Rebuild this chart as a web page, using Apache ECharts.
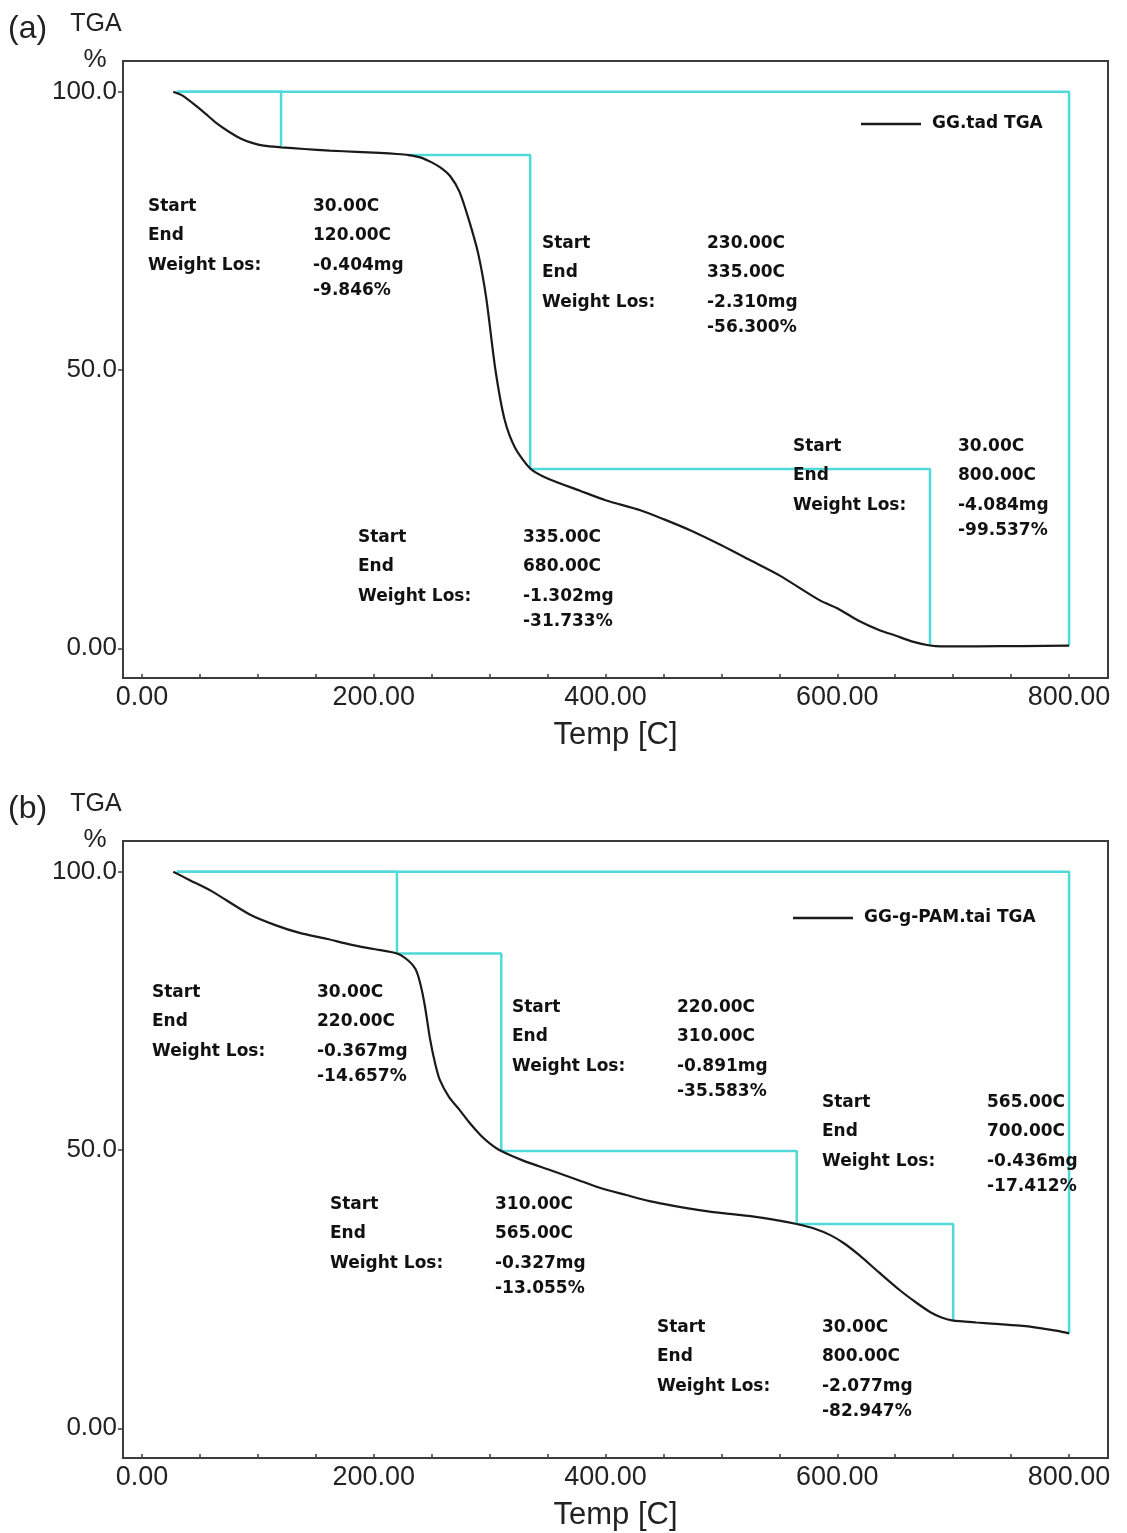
<!DOCTYPE html>
<html><head><meta charset="utf-8">
<script src="https://cdn.jsdelivr.net/npm/echarts@6/dist/echarts.min.js"></script>
<style>html,body{margin:0;padding:0;background:#fff}#c{width:1127px;height:1533px}</style>
</head><body><div id="c"></div>
<script>
// ---------- axis ticks ----------
const xTickValues = [0, 200, 400, 600, 800];
const xTickLabels = ['0.00', '200.00', '400.00', '600.00', '800.00'];
const xMinorTicks = [0, 50, 100, 150, 200, 250, 300, 350, 400, 450, 500, 550, 600, 650, 700, 750, 800];
const yTickValues = [0, 50, 100];
const yTickLabels = ['0.00', '50.0', '100.0'];

// ---------- panel (a): GG ----------
const seriesNameA = 'GG.tad TGA';
const tempA = [27, 35, 47, 55, 64, 75, 85, 95, 105, 120, 140, 162, 185, 205, 220, 230, 240, 250, 258, 266, 274, 282, 290, 297, 305, 313, 322, 335, 350, 378, 400, 430, 450, 473, 500, 525, 550, 585, 600, 618, 637, 650, 665, 680, 690, 720, 760, 800];
const weightA = [100, 99.3, 97.4, 96.0, 94.4, 92.8, 91.6, 90.8, 90.3, 90.0, 89.7, 89.4, 89.2, 89.0, 88.8, 88.6, 88.2, 87.3, 86.3, 84.8, 82.0, 77.0, 71.0, 63.0, 50.0, 41.0, 36.0, 32.3, 30.5, 28.3, 26.6, 24.8, 23.2, 21.2, 18.5, 15.8, 13.1, 8.6, 7.2, 5.0, 3.2, 2.3, 1.2, 0.5, 0.35, 0.35, 0.4, 0.46];
const stepStartA = [30, 230, 335, 30];
const stepEndA = [120, 335, 680, 800];
const stepWStartA = [100, 88.6, 32.2, 100];
const stepWEndA = [90.15, 32.3, 0.47, 0.46];
const annStartA = ['30.00C', '230.00C', '30.00C', '335.00C'];
const annEndA = ['120.00C', '335.00C', '800.00C', '680.00C'];
const annMgA = ['-0.404mg', '-2.310mg', '-4.084mg', '-1.302mg'];
const annPctA = ['-9.846%', '-56.300%', '-99.537%', '-31.733%'];

// ---------- panel (b): GG-g-PAM ----------
const seriesNameB = 'GG-g-PAM.tai TGA';
const tempB = [27, 40, 60, 93, 115, 136, 160, 180, 200, 220, 230, 236, 240, 244, 248.5, 253, 257, 265, 274, 283, 292, 300, 310, 330, 352, 375, 395, 418, 438, 460, 481, 503, 525, 545, 565, 580, 594, 606, 619, 636, 654, 668, 680, 690, 699, 720, 740, 760, 775, 790, 800];
const weightB = [100, 98.6, 96.5, 92.3, 90.4, 89.0, 87.9, 86.9, 86.1, 85.3, 84.0, 82.5, 80.0, 76.0, 70.0, 65.5, 62.6, 59.5, 57.2, 54.8, 52.7, 51.2, 49.8, 48.0, 46.4, 44.7, 43.2, 41.9, 40.8, 39.9, 39.2, 38.6, 38.1, 37.5, 36.7, 35.9, 34.7, 33.2, 31.1, 28.0, 24.8, 22.6, 20.9, 19.9, 19.4, 19.0, 18.7, 18.4, 18.0, 17.5, 17.05];
const stepStartB = [30, 220, 310, 565, 30];
const stepEndB = [220, 310, 565, 700, 800];
const stepWStartB = [100, 85.3, 49.8, 36.7, 100];
const stepWEndB = [85.34, 49.76, 36.7, 19.3, 17.05];
const annStartB = ['30.00C', '220.00C', '565.00C', '310.00C', '30.00C'];
const annEndB = ['220.00C', '310.00C', '700.00C', '565.00C', '800.00C'];
const annMgB = ['-0.367mg', '-0.891mg', '-0.436mg', '-0.327mg', '-2.077mg'];
const annPctB = ['-14.657%', '-35.583%', '-17.412%', '-13.055%', '-82.947%'];

// ---------- layout (pixels) ----------
const annPosA = [[148, 207], [542, 244], [793, 447], [358, 538]];
const annPosB = [[152, 993], [512, 1008], [822, 1103], [330, 1205], [657, 1328]];
const panelTop = [61, 841];

const CYAN = '#4fd9d9';
const FRAME = '#3c3c3c';
const annFont = 'bold 17px "DejaVu Sans"';

const chart = echarts.init(document.getElementById('c'), null, {renderer: 'canvas'});

function xAxisFor(gi) {
  return {
    type: 'value', gridIndex: gi, min: -16.4, max: 833.6,
    name: 'Temp [C]', nameLocation: 'middle', nameGap: 42,
    nameTextStyle: {fontFamily: 'Liberation Sans', fontSize: 31, color: '#222'},
    axisLine: {show: true, onZero: false, lineStyle: {color: FRAME, width: 2}},
    axisTick: {show: true, inside: true, length: 4, customValues: xMinorTicks, lineStyle: {color: FRAME, width: 1.5}},
    axisLabel: {customValues: xTickValues, margin: 6, fontFamily: 'Liberation Sans', fontSize: 27, color: '#222',
      formatter: v => xTickLabels[xTickValues.indexOf(v)]},
    splitLine: {show: false}
  };
}
function yAxisFor(gi) {
  return {
    type: 'value', gridIndex: gi, min: -5.34, max: 105.51,
    axisLine: {show: true, onZero: false, lineStyle: {color: FRAME, width: 2}},
    axisTick: {show: true, inside: false, length: 5, customValues: yTickValues, lineStyle: {color: FRAME, width: 1.5}},
    axisLabel: {customValues: yTickValues, margin: 6, fontFamily: 'Liberation Sans', fontSize: 26, color: '#222',
      formatter: v => yTickLabels[yTickValues.indexOf(v)]},
    splitLine: {show: false}
  };
}

function stepSeries(gi, s, e, ws, we) {
  return s.map((st, i) => ({
    type: 'line', xAxisIndex: gi, yAxisIndex: gi, name: 'step' + gi + '_' + i,
    data: [[st, ws[i]], [e[i], ws[i]], [e[i], we[i]]],
    showSymbol: false, silent: true, z: 1,
    lineStyle: {color: CYAN, width: 2.5}
  }));
}

function annGraphics(pos, st, en, mg, pct) {
  const out = [];
  const dy = [0, 28.5, 59, 84];
  pos.forEach((p, i) => {
    const [x, y] = p;
    const left = ['Start', 'End', 'Weight Los:'];
    const right = [st[i], en[i], mg[i], pct[i]];
    left.forEach((t, k) => out.push({type: 'text', x: x, y: y + dy[k], z: 10,
      style: {text: t, font: annFont, fill: '#111', verticalAlign: 'middle', align: 'left'}}));
    right.forEach((t, k) => out.push({type: 'text', x: x + 165, y: y + dy[k], z: 10,
      style: {text: t, font: annFont, fill: '#111', verticalAlign: 'middle', align: 'left'}}));
  });
  return out;
}

function titleGraphics(letter, top) {
  const off = top - 61;
  return [
    {type: 'text', x: 8, y: 29 + off, style: {text: letter, font: '32px "Liberation Sans"', fill: '#222', verticalAlign: 'middle'}},
    {type: 'text', x: 96, y: 24 + off, style: {text: 'TGA', font: '25px "Liberation Sans"', fill: '#222', align: 'center', verticalAlign: 'middle'}},
    {type: 'text', x: 95, y: 60 + off, style: {text: '%', font: '26px "Liberation Sans"', fill: '#222', align: 'center', verticalAlign: 'middle'}}
  ];
}

const option = {
  backgroundColor: '#fff',
  animation: false,
  grid: panelTop.map(t => ({left: 123, top: t, width: 985, height: 617, show: true, borderColor: FRAME, borderWidth: 2, backgroundColor: 'transparent'})),
  xAxis: [xAxisFor(0), xAxisFor(1)],
  yAxis: [yAxisFor(0), yAxisFor(1)],
  legend: [
    {data: [seriesNameA], left: 856, top: 109, icon: 'rect', itemWidth: 60, itemHeight: 2.5,
      textStyle: {fontFamily: 'DejaVu Sans', fontWeight: 'bold', fontSize: 17, color: '#111', lineHeight: 20, padding: [0, 0, 0, 6]}},
    {data: [seriesNameB], left: 788, top: 903, icon: 'rect', itemWidth: 60, itemHeight: 2.5,
      textStyle: {fontFamily: 'DejaVu Sans', fontWeight: 'bold', fontSize: 17, color: '#111', lineHeight: 20, padding: [0, 0, 0, 6]}}
  ],
  series: [
    ...stepSeries(0, stepStartA, stepEndA, stepWStartA, stepWEndA),
    ...stepSeries(1, stepStartB, stepEndB, stepWStartB, stepWEndB),
    {type: 'line', name: seriesNameA, xAxisIndex: 0, yAxisIndex: 0, z: 5,
      data: tempA.map((t, i) => [t, weightA[i]]), showSymbol: false, smooth: 0.25,
      color: '#1a1a1a', lineStyle: {color: '#1a1a1a', width: 2.2}},
    {type: 'line', name: seriesNameB, xAxisIndex: 1, yAxisIndex: 1, z: 5,
      data: tempB.map((t, i) => [t, weightB[i]]), showSymbol: false, smooth: 0.25,
      color: '#1a1a1a', lineStyle: {color: '#1a1a1a', width: 2.2}}
  ],
  graphic: [
    ...titleGraphics('(a)', panelTop[0]),
    ...titleGraphics('(b)', panelTop[1]),
    ...annGraphics(annPosA, annStartA, annEndA, annMgA, annPctA),
    ...annGraphics(annPosB, annStartB, annEndB, annMgB, annPctB)
  ]
};
chart.setOption(option);
</script>
</body></html>
